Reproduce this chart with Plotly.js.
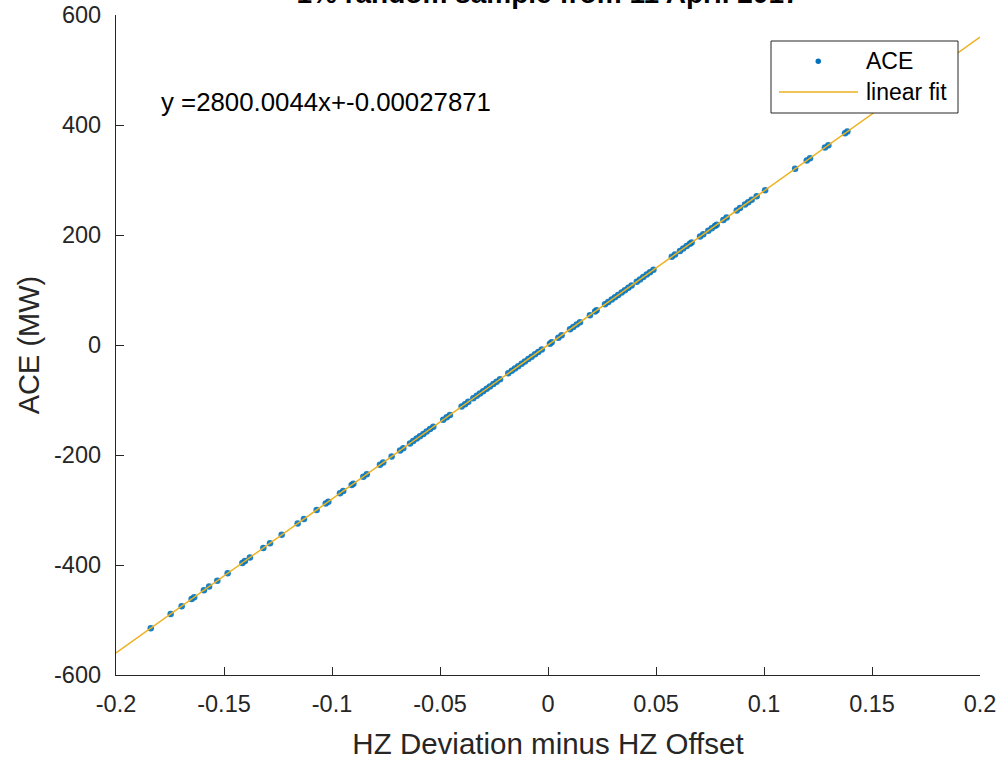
<!DOCTYPE html>
<html>
<head>
<meta charset="utf-8">
<script src="https://cdn.plot.ly/plotly-3.0.1.min.js"></script>
<style>html,body{margin:0;padding:0;background:#fff;}#chart{width:1005px;height:762px;}</style>
</head>
<body>
<div id="chart"></div>
<script>
// HZ deviation minus HZ offset (x) and ACE in MW (y)
const hzDev = [
-0.1839,-0.1747,-0.1696,-0.1650,-0.1638,-0.1593,-0.1569,-0.1531,-0.1483,-0.1415,
-0.1403,-0.1380,-0.1318,-0.1287,-0.1233,-0.1159,-0.1130,-0.1071,-0.1029,-0.1017,
-0.0963,-0.0948,-0.0909,-0.0901,-0.0855,-0.0839,-0.0778,-0.0763,-0.0724,-0.0685,
-0.0670,-0.0639,-0.0624,-0.0608,-0.0593,-0.0577,-0.0562,-0.0546,-0.0531,-0.0485,
-0.0469,-0.0454,-0.0400,-0.0384,-0.0369,-0.0346,-0.0330,-0.0315,-0.0300,-0.0284,
-0.0269,-0.0253,-0.0238,-0.0222,-0.0184,-0.0168,-0.0153,-0.0138,-0.0122,-0.0107,
-0.0091,-0.0076,-0.0060,-0.0045,-0.0029,0.0009,0.0017,0.0048,0.0063,0.0102,
0.0117,0.0133,0.0148,0.0194,0.0218,0.0225,0.0264,0.0279,0.0295,0.0310,
0.0325,0.0341,0.0356,0.0372,0.0387,0.0411,0.0426,0.0441,0.0457,0.0472,
0.0488,0.0573,0.0588,0.0611,0.0626,0.0642,0.0657,0.0665,0.0704,0.0719,
0.0742,0.0758,0.0773,0.0781,0.0812,0.0827,0.0874,0.0889,0.0912,0.0927,
0.0943,0.0966,0.1005,0.1144,0.1198,0.1213,0.1282,0.1298,0.1375,0.1386,
0.1528
];
const aceMW = [
-514.9,-489.2,-474.9,-462.0,-458.6,-446.0,-439.3,-428.7,-415.2,-396.2,
-392.8,-386.4,-369.0,-360.4,-345.2,-324.5,-316.4,-299.9,-288.1,-284.8,
-269.6,-265.4,-254.5,-252.3,-239.4,-234.9,-217.8,-213.6,-202.7,-191.8,
-187.6,-178.9,-174.7,-170.2,-166.0,-161.6,-157.4,-152.9,-148.7,-135.8,
-131.3,-127.1,-112.0,-107.5,-103.3,-96.9,-92.4,-88.2,-84.0,-79.5,
-75.3,-70.8,-66.6,-62.2,-51.5,-47.0,-42.8,-38.6,-34.2,-30.0,
-25.5,-21.3,-16.8,-12.6,-8.1,2.5,4.8,13.4,17.6,28.6,
32.8,37.2,41.4,54.3,61.0,63.0,73.9,78.1,82.6,86.8,
91.0,95.5,99.7,104.2,108.4,115.1,119.3,123.5,128.0,132.2,
136.6,160.4,164.6,171.1,175.3,179.8,184.0,186.2,197.1,201.3,
207.8,212.2,216.4,218.7,227.4,231.6,244.7,248.9,255.4,259.6,
264.0,270.5,281.4,320.3,335.4,339.6,359.0,363.4,385.0,388.1,
427.8
];
// linear fit end points
const fitX = [-0.2, 0.2];
const fitY = [-560.0, 560.0];

const xTicks = [-0.2,-0.15,-0.1,-0.05,0,0.05,0.1,0.15,0.2];
const xTickText = ['-0.2','-0.15','-0.1','-0.05','0','0.05','0.1','0.15','0.2'];
const yTicks = [-600,-400,-200,0,200,400,600];
const yTickText = ['-600','-400','-200','0','200','400','600'];

const seriesNames = ['ACE', 'linear fit'];
const titleText = '1% random sample from 11 April 2017';
const eqText = 'y =2800.0044x+-0.00027871';

const FONT = 'Liberation Sans, Arial, Helvetica, sans-serif';
const AX = '#262626';
const BLUE = '#0072BD';
const GOLD = '#EDB120';

const traces = [
  {x: hzDev, y: aceMW, type: 'scatter', mode: 'markers', name: seriesNames[0],
   marker: {color: BLUE, size: 6.5, opacity: 0.9}, showlegend: false},
  {x: fitX, y: fitY, type: 'scatter', mode: 'lines', name: seriesNames[1],
   line: {color: GOLD, width: 1.5}, showlegend: false}
];

// legend box drawn in paper space (pixel helpers for the 864x660 plot area)
const PL = 116, PT = 15, PW = 864, PH = 660;
const px = v => (v - PL) / PW;
const py = v => (PT + PH - v) / PH;

const layout = {
  width: 1005, height: 762,
  paper_bgcolor: '#fff', plot_bgcolor: '#fff',
  margin: {l: 116, r: 25, t: 15, b: 87, pad: 0},
  font: {family: FONT, color: AX, size: 23},
  title: {text: '<b>' + titleText + '</b>', x: 0.5, xref: 'paper', xanchor: 'center',
          y: 1, yref: 'paper', yanchor: 'bottom', pad: {b: 12, t: 0, l: 0, r: 0},
          font: {family: FONT, size: 28, color: '#000'}},
  showlegend: false,
  xaxis: {range: [-0.2, 0.2], tickvals: xTicks, ticktext: xTickText,
          ticks: 'inside', ticklen: 8, tickcolor: AX, tickwidth: 1,
          showline: true, linecolor: AX, linewidth: 1.2, mirror: false,
          showgrid: false, zeroline: false, ticklabelstandoff: 8,
          tickfont: {family: FONT, size: 23.5, color: AX},
          title: {text: 'HZ Deviation minus HZ Offset', font: {family: FONT, size: 29.5, color: AX}, standoff: 17}},
  yaxis: {range: [-600, 600], tickvals: yTicks, ticktext: yTickText,
          ticks: 'inside', ticklen: 8, tickcolor: AX, tickwidth: 1,
          showline: true, linecolor: AX, linewidth: 1.2, mirror: false,
          showgrid: false, zeroline: false, ticklabelstandoff: 9,
          tickfont: {family: FONT, size: 23.5, color: AX},
          title: {text: 'ACE (MW)', font: {family: FONT, size: 29, color: AX}, standoff: 6}},
  shapes: [
    {type: 'rect', xref: 'paper', yref: 'paper', layer: 'above',
     x0: px(771), x1: px(958), y0: py(113), y1: py(41),
     fillcolor: '#fff', line: {color: AX, width: 1}},
    {type: 'line', xref: 'paper', yref: 'paper', layer: 'above',
     x0: px(779), x1: px(858), y0: py(92), y1: py(92),
     line: {color: GOLD, width: 1.5}},
    {type: 'circle', xref: 'paper', yref: 'paper', layer: 'above',
     x0: px(815.5), x1: px(821), y0: py(64), y1: py(58.5),
     fillcolor: BLUE, line: {color: BLUE, width: 0}}
  ],
  annotations: [
    {text: eqText, xref: 'paper', yref: 'paper', x: px(159), y: py(102),
     xanchor: 'left', yanchor: 'middle', showarrow: false,
     font: {family: FONT, size: 25.8, color: '#000'}},
    {text: seriesNames[0], xref: 'paper', yref: 'paper', x: px(864), y: py(61),
     xanchor: 'left', yanchor: 'middle', showarrow: false,
     font: {family: FONT, size: 23, color: '#000'}},
    {text: seriesNames[1], xref: 'paper', yref: 'paper', x: px(864), y: py(92),
     xanchor: 'left', yanchor: 'middle', showarrow: false,
     font: {family: FONT, size: 23, color: '#000'}}
  ]
};

Plotly.newPlot('chart', traces, layout, {displayModeBar: false, staticPlot: true});
</script>
</body>
</html>
